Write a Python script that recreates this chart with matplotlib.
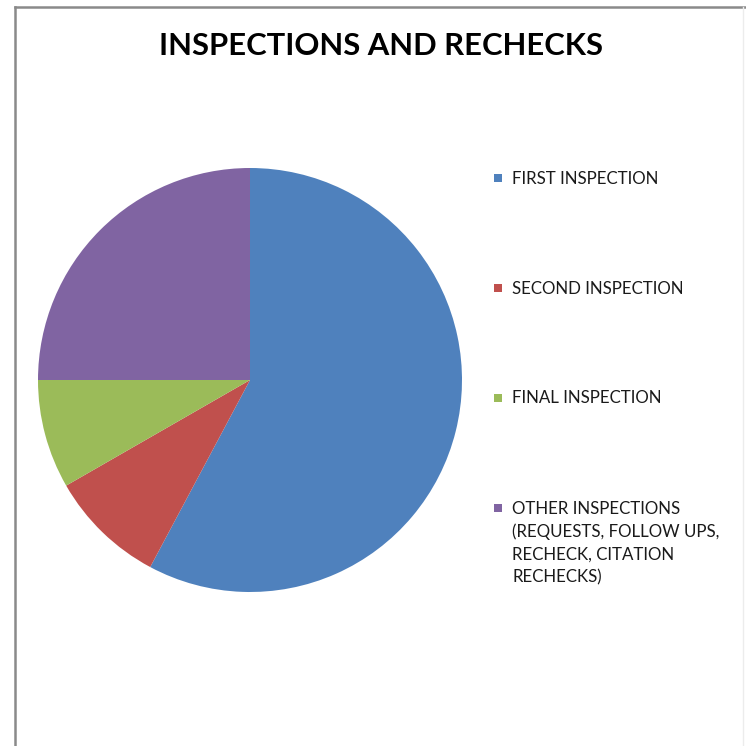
import matplotlib
matplotlib.use("Agg")
import matplotlib.pyplot as plt
from matplotlib.patches import Rectangle
from matplotlib.lines import Line2D

# slice shares (percent)
labels = ["FIRST INSPECTION", "SECOND INSPECTION", "FINAL INSPECTION",
          "OTHER INSPECTIONS\n(REQUESTS, FOLLOW UPS,\nRECHECK, CITATION\nRECHECKS)"]
values = [57.8, 8.9, 8.3, 25.0]
colors = ["#4F81BD", "#C0504D", "#9BBB59", "#8064A2"]

plt.rcParams['font.family'] = ['Lato', 'DejaVu Sans']

W = 746
fig = plt.figure(figsize=(7.46, 7.46), dpi=100)
fig.patch.set_facecolor("white")

# pie axes: center ~ (250, 380) px, radius ~212 px
cx, cy, r = 250, 380, 212
ax = fig.add_axes([(cx - r) / W, (W - cy - r) / W, 2 * r / W, 2 * r / W])
ax.pie(values, colors=colors, startangle=90, counterclock=False,
       wedgeprops=dict(linewidth=0))
ax.set_xlim(-1, 1)
ax.set_ylim(-1, 1)
ax.set_aspect("equal")
ax.axis("off")

fig.text(381 / W, 1 - 46 / W, "INSPECTIONS AND RECHECKS", ha="center", va="center",
         fontsize=22.3, fontweight="bold", color="black")

# legend drawn by hand so the marker sits on the first line
ys = [178, 288, 398, 508]
for lab, col, y in zip(labels, colors, ys):
    fig.add_artist(Rectangle((494 / W, 1 - (y + 4) / W), 8 / W, 8 / W,
                             transform=fig.transFigure, facecolor=col, edgecolor="none"))
    fig.text(512 / W, 1 - (y - 7.5) / W, lab, ha="left", va="top", fontsize=12.2,
             color="#1a1a1a", linespacing=1.5)

# thin grey frame on the top and left edges
fig.add_artist(Line2D([15 / W, 15 / W], [0, 1 - 7 / W], transform=fig.transFigure,
                      color="#8a8a8a", linewidth=1.8))
fig.add_artist(Line2D([15 / W, 1], [1 - 7 / W, 1 - 7 / W], transform=fig.transFigure,
                      color="#8a8a8a", linewidth=1.8))
fig.add_artist(Line2D([743 / W, 743 / W], [0, 1 - 7 / W], transform=fig.transFigure,
                      color="#ececec", linewidth=1))

fig.savefig("out.png", dpi=100)
